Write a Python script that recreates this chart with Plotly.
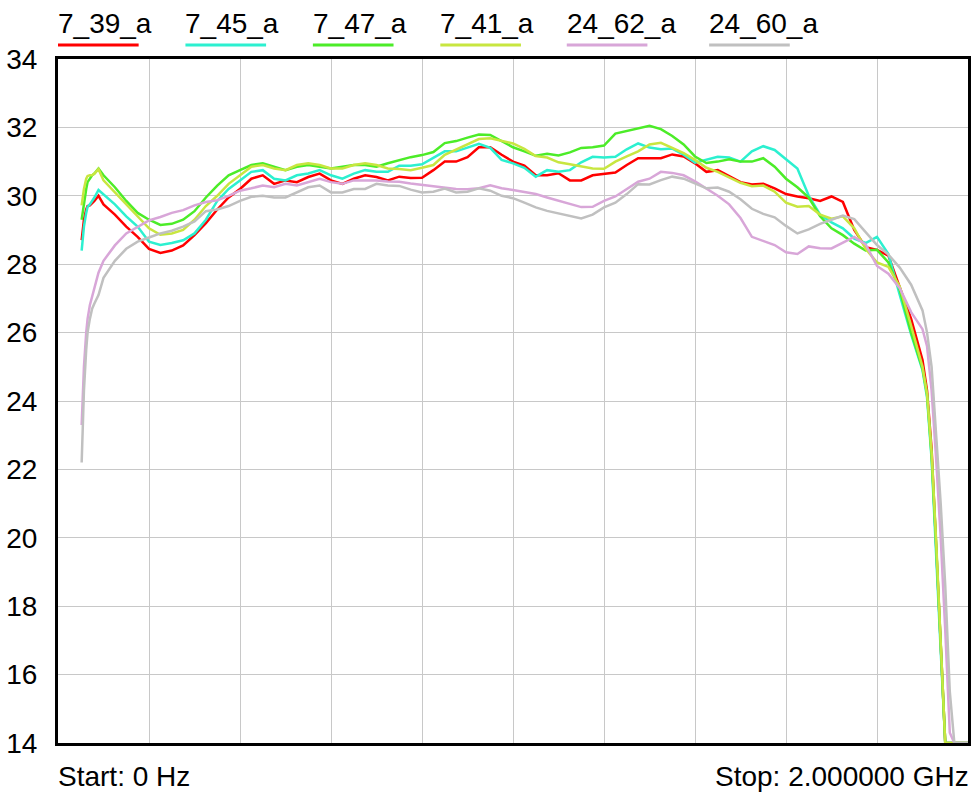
import plotly.graph_objects as go

# Frequency points (MHz) shared by all traces
freq_mhz = [52, 57, 62, 65, 70, 75, 80, 89, 100,
            125, 150, 175, 200, 225, 250, 275, 300, 325, 350, 375, 400, 425, 450, 475, 500,
            525, 550, 575, 600, 625, 650, 675, 700, 725, 750, 775, 800, 825, 850, 875, 900,
            925, 950, 975, 1000, 1025, 1050, 1075, 1100, 1125, 1150, 1175, 1200, 1225, 1250,
            1275, 1300, 1325, 1350, 1375, 1400, 1425, 1450, 1475, 1500, 1525, 1550, 1575, 1600,
            1625, 1650, 1675, 1700, 1725, 1750, 1775, 1800,
            1825, 1850, 1875, 1900, 1910, 1920, 1930, 1940, 1950, 1960, 1970, 2000]

s_7_39_a = [28.7, 29.3, 29.6, 29.7, 29.72, 29.78, 29.85, 30.0, 29.75,
            29.45, 29.1, 28.8, 28.45, 28.33, 28.4, 28.55, 28.85, 29.2, 29.6, 29.95, 30.2, 30.5, 30.6, 30.35, 30.45,
            30.4, 30.55, 30.65, 30.45, 30.35, 30.5, 30.6, 30.55, 30.45, 30.56, 30.52, 30.53, 30.75, 31.0, 31.0, 31.13,
            31.42, 31.42, 31.2, 31.0, 30.88, 30.6, 30.6, 30.66, 30.45, 30.45, 30.6, 30.65, 30.68, 30.9,
            31.1, 31.1, 31.1, 31.21, 31.15, 30.95, 30.7, 30.75, 30.58, 30.4, 30.33, 30.35, 30.22, 30.05,
            29.98, 29.93, 29.85, 29.98, 29.82, 29.0, 28.5, 28.42,
            28.25, 27.3, 26.4, 25.2, 24.3, 22.6, 19.9, 16.9, 14.0, 14.0, 14.0, 14.0]

s_7_45_a = [28.4, 29.1, 29.5, 29.68, 29.75, 29.85, 29.95, 30.17, 30.05,
            29.75, 29.4, 29.1, 28.66, 28.56, 28.62, 28.7, 28.9, 29.3, 29.85, 30.2, 30.45, 30.7, 30.75, 30.5, 30.45,
            30.6, 30.65, 30.75, 30.6, 30.5, 30.65, 30.75, 30.7, 30.7, 30.88, 30.88, 30.92, 31.1, 31.3, 31.3, 31.42,
            31.52, 31.4, 31.05, 30.95, 30.82, 30.56, 30.75, 30.7, 30.75, 30.98, 31.14, 31.12, 31.14, 31.36,
            31.53, 31.41, 31.36, 31.38, 31.2, 30.97, 31.05, 31.14, 31.12, 31.0, 31.3, 31.45, 31.34, 31.08,
            30.8, 30.0, 29.45, 29.22, 29.05, 28.75, 28.62, 28.8,
            28.3, 27.1, 25.95, 24.9, 24.1, 22.3, 19.7, 16.7, 14.0, 14.0, 14.0, 14.0]

s_7_47_a = [29.3, 29.8, 30.2, 30.4, 30.5, 30.6, 30.65, 30.8, 30.6,
            30.25, 29.85, 29.5, 29.3, 29.15, 29.18, 29.3, 29.55, 29.95, 30.3, 30.6, 30.75, 30.9, 30.95, 30.85, 30.75,
            30.85, 30.9, 30.85, 30.8, 30.85, 30.9, 30.9, 30.85, 30.95, 31.05, 31.13, 31.19, 31.28, 31.54, 31.6, 31.7,
            31.79, 31.78, 31.6, 31.42, 31.3, 31.17, 31.23, 31.18, 31.27, 31.4, 31.42, 31.47, 31.82, 31.9,
            31.97, 32.05, 31.95, 31.75, 31.5, 31.15, 30.96, 31.0, 31.07, 31.0, 31.0, 31.1, 30.85, 30.5,
            30.25, 29.95, 29.4, 29.05, 28.85, 28.6, 28.4, 28.42,
            28.05, 27.25, 26.0, 24.95, 24.2, 22.4, 19.8, 16.8, 14.0, 14.0, 14.0, 14.0]

s_7_41_a = [29.72, 30.2, 30.5, 30.58, 30.6, 30.6, 30.65, 30.78, 30.45,
            30.1, 29.75, 29.4, 29.05, 28.86, 28.9, 29.0, 29.3, 29.7, 30.0, 30.35, 30.6, 30.85, 30.9, 30.8, 30.75,
            30.9, 30.95, 30.9, 30.8, 30.8, 30.9, 30.95, 30.9, 30.8, 30.78, 30.75, 30.82, 30.9, 31.2, 31.35, 31.5,
            31.66, 31.68, 31.6, 31.53, 31.37, 31.16, 31.12, 30.98, 30.92, 30.87, 30.8, 30.79, 31.0, 31.15,
            31.3, 31.5, 31.55, 31.4, 31.25, 31.05, 30.82, 30.7, 30.55, 30.38, 30.28, 30.3, 30.12, 29.8,
            29.68, 29.7, 29.45, 29.33, 29.4, 29.05, 28.45, 28.05,
            27.92, 27.35, 26.2, 25.0, 24.2, 22.5, 19.9, 16.9, 14.0, 14.0, 14.0, 14.0]

s_24_62_a = [23.3, 25.0, 26.0, 26.4, 26.8, 27.05, 27.3, 27.75, 28.1,
             28.55, 28.9, 29.1, 29.28, 29.38, 29.5, 29.58, 29.72, 29.82, 29.87, 30.0, 30.15, 30.22, 30.3, 30.25, 30.35,
             30.3, 30.4, 30.5, 30.4, 30.35, 30.45, 30.45, 30.45, 30.42, 30.41, 30.36, 30.32, 30.27, 30.22, 30.2, 30.19,
             30.22, 30.31, 30.22, 30.17, 30.12, 30.05, 29.95, 29.85, 29.75, 29.67, 29.68, 29.85, 29.98, 30.2,
             30.41, 30.5, 30.7, 30.67, 30.6, 30.42, 30.2, 30.0, 29.75, 29.35, 28.8, 28.68, 28.56, 28.35,
             28.3, 28.52, 28.47, 28.46, 28.62, 28.8, 28.58, 27.95,
             27.72, 27.3, 26.6, 26.1, 25.6, 24.3, 22.3, 20.0, 17.3, 14.3, 14.0, 14.0]

s_24_60_a = [22.2, 24.3, 25.5, 26.0, 26.4, 26.7, 26.85, 27.1, 27.6,
             28.1, 28.45, 28.66, 28.78, 28.9, 28.98, 29.1, 29.25, 29.55, 29.6, 29.7, 29.85, 29.97, 30.0, 29.95, 29.95,
             30.1, 30.25, 30.3, 30.1, 30.1, 30.2, 30.2, 30.35, 30.3, 30.29, 30.18, 30.1, 30.12, 30.21, 30.1, 30.12,
             30.22, 30.15, 30.0, 29.93, 29.8, 29.66, 29.56, 29.48, 29.4, 29.34, 29.45, 29.66, 29.8, 30.05,
             30.34, 30.33, 30.46, 30.56, 30.5, 30.37, 30.22, 30.24, 30.12, 29.9, 29.62, 29.47, 29.37, 29.12,
             28.9, 29.02, 29.18, 29.3, 29.42, 29.32, 28.95, 28.56,
             28.28, 27.9, 27.4, 26.65, 26.0, 25.0, 23.0, 21.0, 18.6, 15.5, 14.0, 14.0]

series_names = ["7_39_a", "7_45_a", "7_47_a", "7_41_a", "24_62_a", "24_60_a"]
series_values = [s_7_39_a, s_7_45_a, s_7_47_a, s_7_41_a, s_24_62_a, s_24_60_a]
series_colors = ["#ff0000", "#2cf0d0", "#4cec28", "#c8e640", "#d8a6d8", "#c0c0c0"]

y_ticks = [14, 16, 18, 20, 22, 24, 26, 28, 30, 32, 34]

freq_ghz = [f / 1000.0 for f in freq_mhz]

W, H = 977, 794
L, R, T, B = 57, 6, 59, 51
PW, PH = W - L - R, H - T - B
FONT = "Liberation Sans, Arial, sans-serif"
FS = 28

# left edge (px) of each legend entry
legend_left_px = [57, 185, 313, 441, 568, 711]


def paper_x(px):
    return (px - L) / PW


def paper_y(py):
    return (H - B - py) / PH


fig = go.Figure()
for name, vals, col in zip(series_names, series_values, series_colors):
    fig.add_trace(go.Scatter(x=freq_ghz, y=vals, mode="lines", name=name,
                             line=dict(color=col, width=2.5), showlegend=False))

# Legend row: label text with a coloured bar underneath
annotations = []
shapes = []
for name, col, x_px in zip(series_names, series_colors, legend_left_px):
    annotations.append(dict(x=paper_x(x_px - 2), y=paper_y(23), xref="paper", yref="paper",
                            text=name, showarrow=False, xanchor="left", yanchor="middle",
                            font=dict(family=FONT, size=FS, color="black")))
    shapes.append(dict(type="line", xref="paper", yref="paper",
                       x0=paper_x(x_px), x1=paper_x(x_px + 81),
                       y0=paper_y(45), y1=paper_y(45),
                       line=dict(color=col, width=3)))

annotations.append(dict(x=paper_x(55), y=paper_y(776), xref="paper", yref="paper",
                        text="Start: 0 Hz", showarrow=False, xanchor="left", yanchor="middle",
                        font=dict(family=FONT, size=FS, color="black")))
annotations.append(dict(x=paper_x(974), y=paper_y(776), xref="paper", yref="paper",
                        text="Stop: 2.000000 GHz", showarrow=False, xanchor="right", yanchor="middle",
                        font=dict(family=FONT, size=FS, color="black")))

fig.update_layout(
    width=W, height=H,
    margin=dict(l=L, r=R, t=T, b=B, pad=0),
    paper_bgcolor="white", plot_bgcolor="white",
    font=dict(family=FONT, size=FS, color="black"),
    annotations=annotations, shapes=shapes,
    xaxis=dict(range=[0, 2], tick0=0, dtick=0.2, showticklabels=False,
               showgrid=True, gridcolor="#c8c8c8", gridwidth=1, zeroline=False,
               showline=True, linecolor="black", linewidth=3, mirror=True, ticks=""),
    yaxis=dict(range=[14, 34], tickvals=y_ticks, ticktext=[str(v) for v in y_ticks],
               showgrid=True, gridcolor="#c8c8c8", gridwidth=1, zeroline=False,
               showline=True, linecolor="black", linewidth=3, mirror=True, ticks="",
               ticklabelstandoff=12, tickfont=dict(family=FONT, size=FS, color="black")),
)

fig.write_html("out.html")
